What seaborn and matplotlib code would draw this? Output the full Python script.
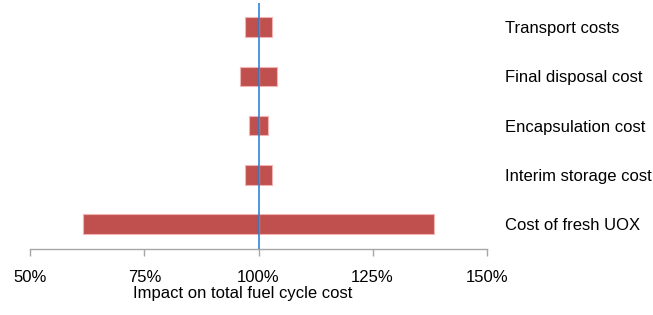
import matplotlib
matplotlib.use("Agg")
import matplotlib.pyplot as plt
import seaborn as sns
import pandas as pd
from matplotlib.ticker import FuncFormatter, FixedLocator

categories = ["Transport costs", "Final disposal cost", "Encapsulation cost",
              "Interim storage cost", "Cost of fresh UOX"]
low_pct = [97.0, 96.0, 98.0, 97.0, 61.5]
high_pct = [103.0, 104.0, 102.0, 103.0, 138.5]
tick_pct = [50, 75, 100, 125, 150]
base_pct = 100
x_label = "Impact on total fuel cycle cost"

sns.set_theme(style="white")
plt.rcParams['font.family'] = ['Liberation Sans', 'DejaVu Sans']

df = pd.DataFrame({
    "category": categories,
    "low_dev": [v - base_pct for v in low_pct],
    "high_dev": [v - base_pct for v in high_pct],
})

fig = plt.figure(figsize=(6.53, 3.15), dpi=100)
ax = fig.add_axes([30.3 / 653, 1 - 248.7 / 315, (486.7 - 30.3) / 653, (248.7 - 2.5) / 315])

bar_color = "#C0504D"
edge_color = "#F0B4B4"
for col in ["high_dev", "low_dev"]:
    sns.barplot(data=df, x=col, y="category", order=categories, orient="h",
                color=bar_color, saturation=1, width=0.4,
                edgecolor=edge_color, linewidth=0.8, ax=ax)

ax.axvline(0, color="#1F7BD6", linewidth=1.1, zorder=5)

ax.set_xlim(tick_pct[0] - base_pct, tick_pct[-1] - base_pct)
ax.set_ylim(len(categories) - 0.5, -0.5)
ax.xaxis.set_major_locator(FixedLocator([t - base_pct for t in tick_pct]))
ax.xaxis.set_major_formatter(FuncFormatter(lambda v, p: f"{v + base_pct:.0f}%"))

for s in ["top", "left", "right"]:
    ax.spines[s].set_visible(False)
ax.spines["bottom"].set_color("#A6A6A6")
ax.spines["bottom"].set_linewidth(1.0)

fs = 12
ax.tick_params(axis="x", bottom=True, direction="out", length=5, width=1.0,
               color="#A6A6A6", labelsize=fs, labelcolor="black", pad=10)
ax.yaxis.tick_right()
ax.tick_params(axis="y", right=False, left=False, length=0, pad=13,
               labelsize=fs, labelcolor="black")
for lbl in ax.get_yticklabels():
    lbl.set_horizontalalignment("left")

ax.set_ylabel("")
ax.set_xlabel(x_label, fontsize=fs, color="black")
ax.xaxis.set_label_coords(0.465, -0.152, transform=ax.transAxes)
ax.xaxis.label.set_verticalalignment("top")

fig.savefig("out.png", dpi=100, facecolor="white")
